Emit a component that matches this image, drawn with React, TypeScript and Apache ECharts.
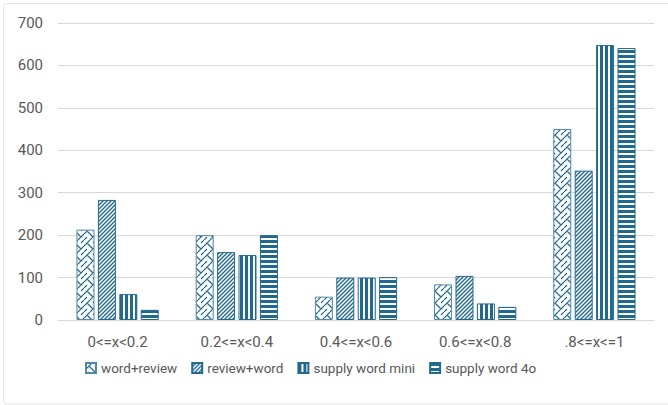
import React, { useEffect, useRef } from "react";
import * as echarts from "echarts";

const categories = ["0<=x<0.2", "0.2<=x<0.4", "0.4<=x<0.6", "0.6<=x<0.8", ".8<=x<=1"];
const seriesNames = ["word+review", "review+word", "supply word mini", "supply word 4o"];
const wordReview = [213, 200, 55, 84, 450];
const reviewWord = [283, 160, 100, 104, 352];
const supplyMini = [61, 153, 100, 39, 648];
const supply4o = [24, 200, 101, 31, 641];
const yTicks = [0, 100, 200, 300, 400, 500, 600, 700];

const BLUE = "#21698f";

function makeTile(kind: string): HTMLCanvasElement {
  const c = document.createElement("canvas");
  let w = 8, h = 8;
  if (kind === "weave") { w = 12; h = 12; }
  if (kind === "diag") { w = 4; h = 4; }
  if (kind === "vert") { w = 5; h = 5; }
  if (kind === "horiz") { w = 5; h = 5; }
  c.width = w; c.height = h;
  const ctx = c.getContext("2d")!;
  ctx.fillStyle = "#ffffff";
  ctx.fillRect(0, 0, w, h);
  ctx.strokeStyle = BLUE;
  ctx.fillStyle = BLUE;
  if (kind === "weave") {
    ctx.lineWidth = 1.2;
    ctx.beginPath();
    ctx.moveTo(0, 6); ctx.lineTo(6, 0);
    ctx.moveTo(6, 12); ctx.lineTo(12, 6);
    ctx.moveTo(3, 3); ctx.lineTo(9, 9);
    ctx.moveTo(0, 6); ctx.lineTo(-3, 3);
    ctx.moveTo(9, 9); ctx.lineTo(12, 6);
    ctx.moveTo(0, 12); ctx.lineTo(3, 9);
    ctx.moveTo(9, 3); ctx.lineTo(12, 0);
    ctx.stroke();
  } else if (kind === "diag") {
    ctx.lineWidth = 1.4;
    ctx.beginPath();
    ctx.moveTo(-1, 5); ctx.lineTo(5, -1);
    ctx.moveTo(-1, 1); ctx.lineTo(1, -1);
    ctx.moveTo(3, 5); ctx.lineTo(5, 3);
    ctx.stroke();
  } else if (kind === "vert") {
    ctx.fillRect(0, 0, 3, h);
  } else if (kind === "horiz") {
    ctx.fillRect(0, 0, w, 3);
  }
  return c;
}

export default function App() {
  const ref = useRef<HTMLDivElement>(null);
  useEffect(() => {
    if (!ref.current) return;
    const chart = echarts.init(ref.current, null, { renderer: "svg" });
    const kinds = ["weave", "diag", "vert", "horiz"];
    const dataArr = [wordReview, reviewWord, supplyMini, supply4o];
    const series = seriesNames.map((name, i) => {
      const tile = makeTile(kinds[i]);
      return {
        name,
        type: "bar",
        data: dataArr[i],
        barGap: "19%",
        barCategoryGap: "31%",
        itemStyle: {
          color: { image: tile.toDataURL(), repeat: "repeat", imageWidth: tile.width, imageHeight: tile.height } as any,
          borderColor: i === 0 ? "#4f8aa8" : BLUE,
          borderWidth: 1,
        },
      };
    });
    chart.setOption({
      animation: false,
      textStyle: { fontFamily: "Roboto" },
      graphic: [
        {
          type: "rect",
          silent: true,
          shape: { x: 3.5, y: 3.5, width: 700, height: 400.5, r: 3 },
          style: { fill: "none", stroke: "#e3e3e3", lineWidth: 1 },
        },
      ],
      grid: { left: 58, right: 14, top: 23, bottom: 85 },
      xAxis: {
        type: "category",
        data: categories,
        axisLine: { lineStyle: { color: "#d9d9d9", width: 1 } },
        axisTick: { show: false },
        axisLabel: { color: "#595959", fontSize: 15, margin: 14 },
      },
      yAxis: {
        type: "value",
        min: yTicks[0],
        max: yTicks[yTicks.length - 1],
        interval: 100,
        axisLine: { show: false },
        axisTick: { show: false },
        axisLabel: { color: "#595959", fontSize: 15, margin: 15 },
        splitLine: { lineStyle: { color: "#d9d9d9", width: 1 } },
      },
      legend: {
        bottom: 25,
        left: 80,
        icon: "rect",
        itemWidth: 10,
        itemHeight: 10,
        itemGap: 14,
        textStyle: { color: "#595959", fontSize: 13.5 },
        data: seriesNames,
      },
      series,
    });
    return () => chart.dispose();
  }, []);
  return (
    <div
      ref={ref}
      style={{ position: "fixed", left: 0, top: 0, width: 668, height: 405, background: "#fff" }}
    />
  );
}
